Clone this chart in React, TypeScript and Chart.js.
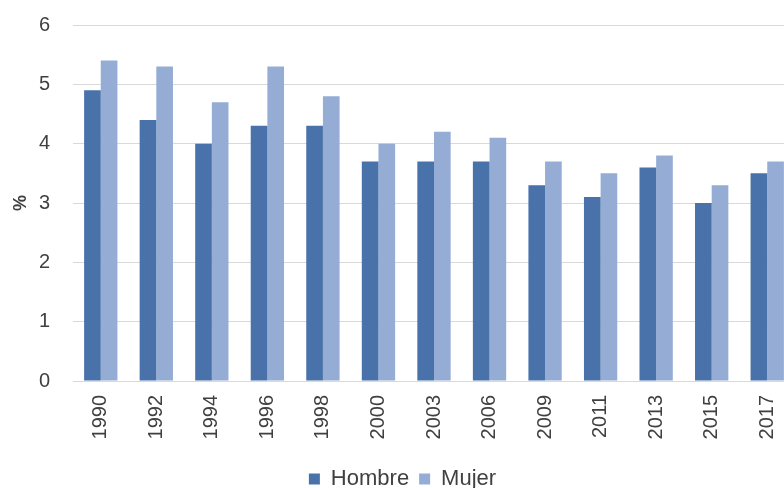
import React, { useEffect, useRef } from "react";
import { Chart, registerables } from "chart.js";

Chart.register(...registerables);

const categories = ["1990", "1992", "1994", "1996", "1998", "2000", "2003", "2006", "2009", "2011", "2013", "2015", "2017"];
const hombre = [4.9, 4.4, 4.0, 4.3, 4.3, 3.7, 3.7, 3.7, 3.3, 3.1, 3.6, 3.0, 3.5];
const mujer = [5.4, 5.3, 4.7, 5.3, 4.8, 4.0, 4.2, 4.1, 3.7, 3.5, 3.8, 3.3, 3.7];
const yTicks = [0, 1, 2, 3, 4, 5, 6];

const FONT = "'Liberation Sans', Arial, sans-serif";

export default function App() {
  const ref = useRef<HTMLCanvasElement | null>(null);

  useEffect(() => {
    if (!ref.current) return;
    const chart = new Chart(ref.current, {
      type: "bar",
      data: {
        labels: categories,
        datasets: [
          { label: "Hombre", data: hombre, backgroundColor: "#4872A9", barPercentage: 1, categoryPercentage: 0.6 },
          { label: "Mujer", data: mujer, backgroundColor: "#95ADD5", barPercentage: 1, categoryPercentage: 0.6 },
        ],
      },
      options: {
        animation: false,
        responsive: true,
        maintainAspectRatio: false,
        layout: { padding: { top: 0, right: 11, bottom: -12, left: 10 } },
        plugins: {
          tooltip: { enabled: false },
          legend: {
            position: "bottom",
            labels: {
              boxWidth: 11,
              boxHeight: 11,
              padding: 10,
              color: "#404040",
              font: { family: FONT, size: 22 },
            },
          },
        },
        scales: {
          x: {
            grid: { display: false, drawTicks: false },
            border: { display: true, color: "#d9d9d9" },
            ticks: {
              minRotation: 90,
              maxRotation: 90,
              padding: 14,
              color: "#404040",
              font: { family: FONT, size: 20 },
            },
            afterFit: (s: any) => { s.height = 77; },
          },
          y: {
            min: 0,
            max: 6,
            afterBuildTicks: (s: any) => { s.ticks = yTicks.map((v) => ({ value: v })); },
            grid: { color: "#d9d9d9", drawTicks: false },
            border: { display: false },
            ticks: {
              padding: 23,
              color: "#404040",
              font: { family: FONT, size: 20 },
            },
            title: {
              display: true,
              text: "%",
              color: "#404040",
              padding: 0,
              font: { family: FONT, size: 18, weight: "bold" },
            },
            afterFit: (s: any) => { s.width = 63; },
          },
        },
      },
    });
    return () => chart.destroy();
  }, []);

  return (
    <div style={{ position: "fixed", left: 0, top: 0, width: 784, height: 488, overflow: "hidden", background: "#fff" }}>
      <div style={{ position: "absolute", left: 0, top: -10, width: 806, height: 498 }}>
        <canvas ref={ref} />
      </div>
    </div>
  );
}
